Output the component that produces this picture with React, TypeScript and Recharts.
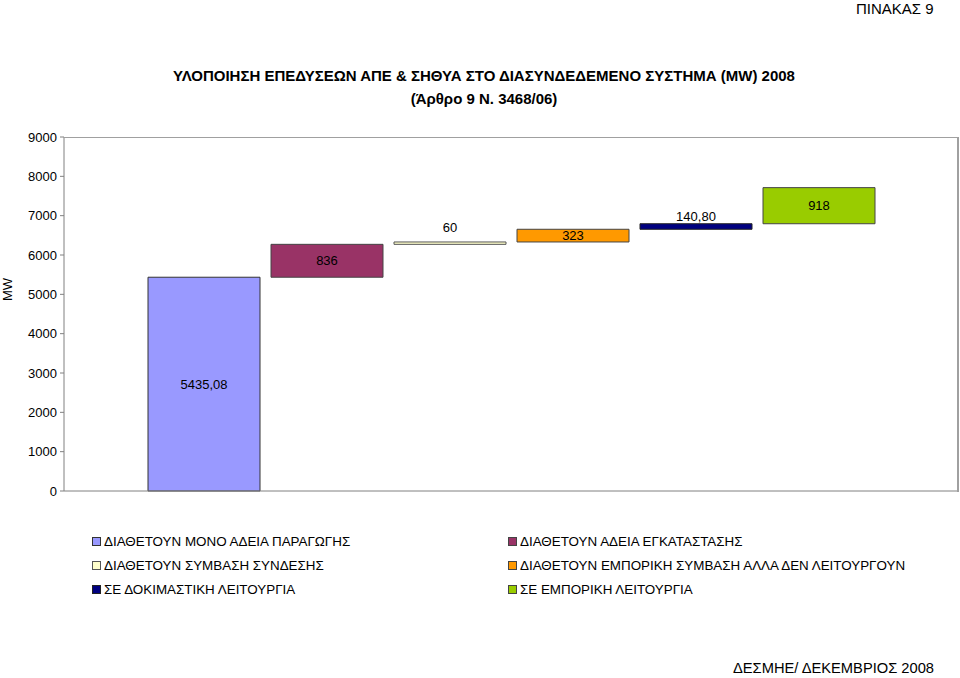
import { BarChart, Bar, XAxis, YAxis } from "recharts";

const categories = ["2008"];
const seriesNames = [
  "ΔΙΑΘΕΤΟΥΝ ΜΟΝΟ ΑΔΕΙΑ ΠΑΡΑΓΩΓΗΣ",
  "ΔΙΑΘΕΤΟΥΝ ΑΔΕΙΑ ΕΓΚΑΤΑΣΤΑΣΗΣ",
  "ΔΙΑΘΕΤΟΥΝ ΣΥΜΒΑΣΗ ΣΥΝΔΕΣΗΣ",
  "ΔΙΑΘΕΤΟΥΝ ΕΜΠΟΡΙΚΗ ΣΥΜΒΑΣΗ ΑΛΛΑ ΔΕΝ ΛΕΙΤΟΥΡΓΟΥΝ",
  "ΣΕ ΔΟΚΙΜΑΣΤΙΚΗ ΛΕΙΤΟΥΡΓΙΑ",
  "ΣΕ ΕΜΠΟΡΙΚΗ ΛΕΙΤΟΥΡΓΙΑ",
];
const seriesValues = [5435.08, 836, 60, 323, 140.8, 918];
const valueLabels = ["5435,08", "836", "60", "323", "140,80", "918"];
const yTicks = [0, 1000, 2000, 3000, 4000, 5000, 6000, 7000, 8000, 9000];

// legend order (two columns, row by row)
const legendOrder = [0, 1, 2, 3, 4, 5];

const fills = ["#9999FF", "#993366", "#FFFFCC", "#FF9900", "#000080", "#99CC00"];
const strokes = ["#333333", "#444444", "#555555", "#444444", "#222222", "#444444"];
// label placement: true = centred inside the bar, false = above it
const labelInside = [true, true, false, true, false, true];
const labelAbove = [0, 0, 10, 0, 3, 0];

// floating bars: each starts where the previous one ended
let running = 0;
const row: Record<string, any> = { name: categories[0] };
seriesValues.forEach((v, i) => {
  row["s" + i] = [running, running + v];
  running += v;
});
const data = [row];

const font = "'Liberation Sans', Arial, sans-serif";

function makeLabel(i: number) {
  return (props: any) => {
    const { x, y, width, height } = props;
    const cx = Number(x) + Number(width) / 2;
    const h = Math.abs(Number(height));
    const top = Math.min(Number(y), Number(y) + Number(height));
    const ty = labelInside[i] ? top + h / 2 + 4.5 : top - labelAbove[i];
    return (
      <text x={cx} y={ty} textAnchor="middle" fontSize={13} fontFamily={font} fill="#000">
        {valueLabels[i]}
      </text>
    );
  };
}

export default function App() {
  return (
    <div style={{ position: "absolute", left: 0, top: 0, width: 960, height: 678, background: "#fff", fontFamily: font }}>
      <div style={{ position: "absolute", left: 856, top: 0, fontSize: 15, lineHeight: "17px", color: "#000" }}>
        ΠΙΝΑΚΑΣ 9
      </div>
      <div
        style={{
          position: "absolute",
          left: 0,
          width: 968,
          top: 64,
          textAlign: "center",
          fontWeight: "bold",
          fontSize: 15,
          lineHeight: "23px",
          color: "#000",
        }}
      >
        ΥΛΟΠΟΙΗΣΗ ΕΠΕΔΥΣΕΩΝ ΑΠΕ &amp; ΣΗΘΥΑ ΣΤΟ ΔΙΑΣΥΝΔΕΔΕΜΕΝΟ ΣΥΣΤΗΜΑ (MW) 2008
        <br />
        (Άρθρο 9 Ν. 3468/06)
      </div>
      <div
        style={{
          position: "absolute",
          left: -4,
          top: 282,
          transform: "rotate(-90deg)",
          fontSize: 13,
          color: "#000",
        }}
      >
        MW
      </div>

      <BarChart
        width={960}
        height={678}
        data={data}
        margin={{ top: 137, right: 3, left: 4, bottom: 177 }}
        barCategoryGap={84}
        barGap={11}
      >
        <XAxis dataKey="name" tick={false} tickLine={false} axisLine={{ stroke: "#808080" }} height={10} />
        <YAxis
          domain={[0, 9000]}
          ticks={yTicks}
          width={60}
          interval={0}
          tickSize={4}
          tickMargin={3}
          axisLine={{ stroke: "#808080" }}
          tickLine={{ stroke: "#808080" }}
          tick={{ fontSize: 13, fill: "#000", fontFamily: font }}
        />
        {seriesValues.map((_, i) => (
          <Bar
            key={i}
            dataKey={"s" + i}
            name={seriesNames[i]}
            fill={fills[i]}
            stroke={strokes[i]}
            strokeWidth={1}
            isAnimationActive={false}
            label={makeLabel(i)}
          />
        ))}
      </BarChart>

      {/* plot frame (top and right) */}
      <div
        style={{
          position: "absolute",
          left: 64,
          top: 137,
          width: 893,
          height: 354,
          borderTop: "1px solid #a0a0a0",
          borderRight: "2px solid #a0a0a0",
          pointerEvents: "none",
        }}
      />

      {legendOrder.map((i) => {
        const col = i % 2;
        const r = Math.floor(i / 2);
        return (
          <div
            key={i}
            style={{
              position: "absolute",
              left: col === 0 ? 92 : 508,
              top: 534 + r * 24,
              display: "flex",
              alignItems: "center",
              fontSize: 13.4,
              color: "#000",
              whiteSpace: "nowrap",
            }}
          >
            <span
              style={{
                display: "inline-block",
                width: 7,
                height: 7,
                background: fills[i],
                border: "1px solid " + strokes[i],
                marginRight: 3,
              }}
            />
            {seriesNames[i]}
          </div>
        );
      })}

      <div style={{ position: "absolute", left: 733, top: 660, fontSize: 14.7, color: "#000" }}>
        ΔΕΣΜΗΕ/ ΔΕΚΕΜΒΡΙΟΣ 2008
      </div>
    </div>
  );
}
